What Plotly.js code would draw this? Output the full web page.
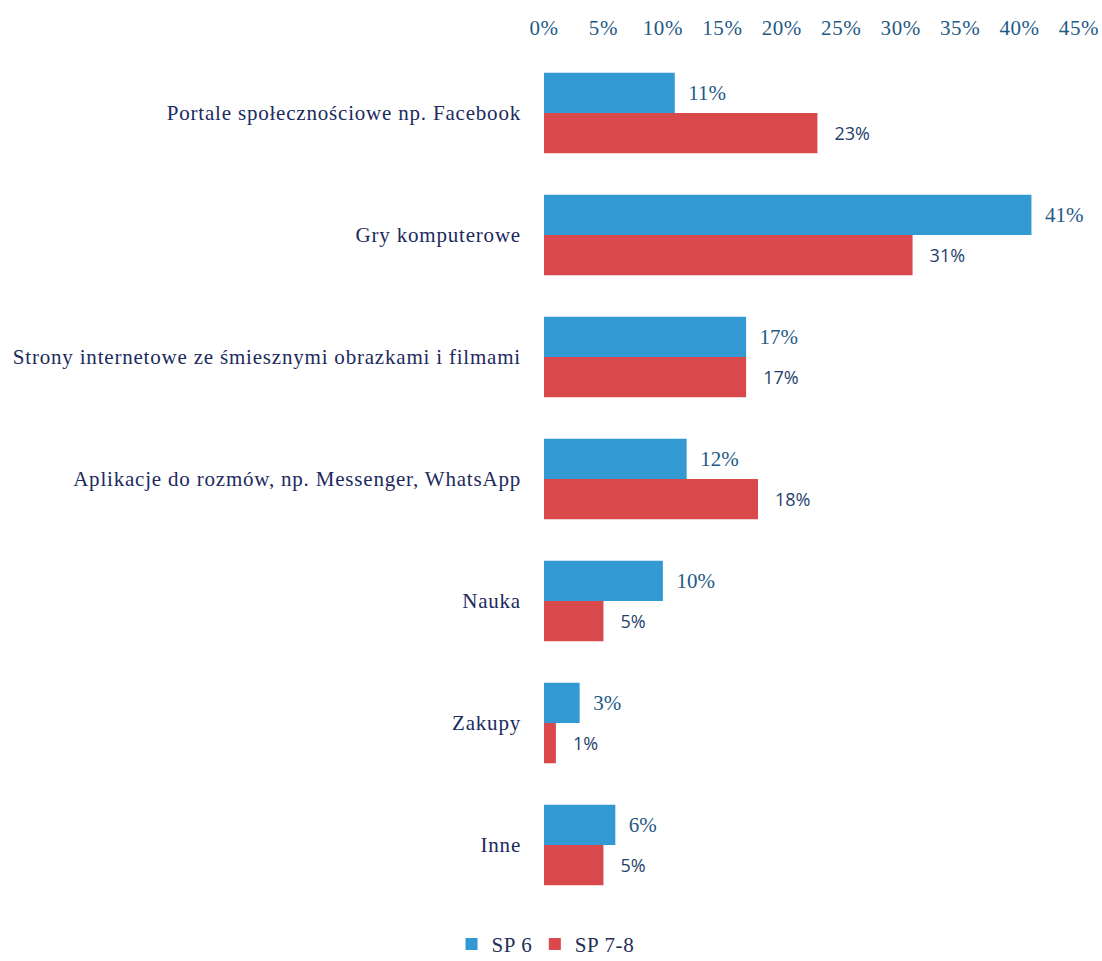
<!DOCTYPE html>
<html>
<head>
<meta charset="utf-8">
<script src="https://cdn.plot.ly/plotly-3.0.1.min.js"></script>
<style>
html,body{margin:0;padding:0;background:#fff;}
#chart{width:1102px;height:961px;}
#chart .ytick text{letter-spacing:0.8px;}
#chart .xtick text{letter-spacing:0.6px;}
#chart .legendtext{letter-spacing:0.6px;}
</style>
</head>
<body>
<div id="chart"></div>
<script>
const categories = [
  "Portale społecznościowe np. Facebook",
  "Gry komputerowe",
  "Strony internetowe ze śmiesznymi obrazkami i filmami",
  "Aplikacje do rozmów, np. Messenger, WhatsApp",
  "Nauka",
  "Zakupy",
  "Inne"
];
const sp6 = [11, 41, 17, 12, 10, 3, 6];
const sp78 = [23, 31, 17, 18, 5, 1, 5];
const seriesNames = ["SP 6", "SP 7-8"];
const tickVals = [0, 5, 10, 15, 20, 25, 30, 35, 40, 45];
const tickText = tickVals.map(v => v + '%');

const traces = [
  {
    type: 'bar', orientation: 'h', name: seriesNames[0],
    y: categories, x: sp6,
    text: sp6.map(v => v + '%'),
    marker: {color: '#3399d2'},
    texttemplate: '\u00a0\u00a0%{text}', textposition: 'outside', cliponaxis: false,
    textfont: {family: 'Liberation Serif, serif', size: 21, color: '#1f5a86'},
    hoverinfo: 'skip'
  },
  {
    type: 'bar', orientation: 'h', name: seriesNames[1],
    y: categories, x: sp78,
    text: sp78.map(v => v + '%'),
    marker: {color: '#d9494b'},
    texttemplate: '\u00a0\u00a0\u00a0%{text}', textposition: 'outside', cliponaxis: false,
    textfont: {family: 'Open Sans, sans-serif', size: 18, color: '#1f3f6e'},
    hoverinfo: 'skip'
  }
];

const layout = {
  width: 1102, height: 961,
  margin: {l: 544, r: 23, t: 52, b: 55, autoexpand: false},
  paper_bgcolor: '#ffffff', plot_bgcolor: '#ffffff',
  barmode: 'group', bargap: 0.34, bargroupgap: 0,
  showlegend: true,
  legend: {
    orientation: 'h', x: 0, xanchor: 'center', y: -0.045, yanchor: 'middle',
    font: {family: 'Liberation Serif, serif', size: 21, color: '#1f2f55'},
    itemwidth: 30, traceorder: 'normal'
  },
  xaxis: {
    side: 'top', range: [0, 45], tickvals: tickVals, ticktext: tickText,
    showgrid: false, zeroline: false, showline: false, ticks: '',
    tickfont: {family: 'Liberation Serif, serif', size: 21, color: '#1f5a86'},
    ticklabelstandoff: 12, fixedrange: true, automargin: false
  },
  yaxis: {
    autorange: 'reversed', showgrid: false, zeroline: false, showline: false, ticks: '',
    tickfont: {family: 'Liberation Serif, serif', size: 21, color: '#1c2a5e'},
    ticklabelstandoff: 22, fixedrange: true, automargin: false
  }
};

Plotly.newPlot('chart', traces, layout, {displayModeBar: false, staticPlot: true});
</script>
</body>
</html>
